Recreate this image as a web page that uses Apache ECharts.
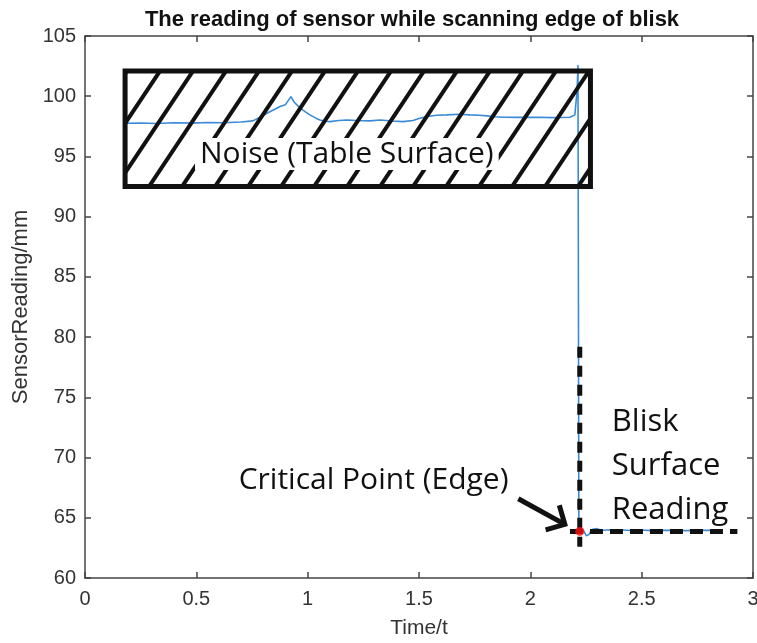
<!DOCTYPE html>
<html>
<head>
<meta charset="utf-8">
<script src="https://cdn.jsdelivr.net/npm/echarts@6/dist/echarts.min.js"></script>
<style>html,body{margin:0;padding:0;background:#fff}#c{width:757px;height:643px}</style>
</head>
<body>
<div id="c"></div>
<script>
// ---- data ----
const timeX = [0.18,0.25,0.32,0.40,0.48,0.55,0.62,0.70,0.754,0.79,0.817,0.85,0.876,0.90,0.907,0.925,0.94,0.965,0.99,1.010,1.035,1.055,1.08,1.100,1.14,1.176,1.22,1.28,1.325,1.38,1.428,1.473,1.50,1.536,1.58,1.626,1.68,1.729,1.77,1.805,1.84,1.877,1.95,2.030,2.10,2.178,2.200,2.210,2.214,2.218,2.226,2.240,2.252,2.262,2.280,2.300,2.320,2.344,2.40,2.45,2.492,2.55,2.60,2.640,2.70,2.77,2.851];
const readingY = [97.75,97.78,97.74,97.80,97.77,97.82,97.80,97.86,97.95,98.3,98.59,98.9,99.14,99.3,99.44,99.97,99.5,99.03,98.7,98.45,98.2,98.03,97.92,97.89,97.98,98.03,97.98,97.95,98.03,97.94,97.89,97.98,98.15,98.31,98.42,98.45,98.50,98.45,98.42,98.37,98.30,98.26,98.24,98.26,98.22,98.26,98.45,100.5,102.6,63.95,64.20,63.9,63.5,63.6,64.05,64.1,63.95,63.98,64.0,63.95,63.98,63.93,63.97,63.95,63.93,63.96,63.95];
const xTicks = [0, 3, 0.5];      // min, max, interval
const yTicks = [60, 105, 5];
const noiseBox = [0.18, 92.5, 2.27, 102.1];   // x0, y0, x1, y1
const edgeVertical = [[2.222, 79.2], [2.222, 62.6]];
const surfaceHorizontal = [[2.178, 63.87], [2.93, 63.87]];
const criticalPoint = [[2.222, 63.87]];
const arrowLine = [1.946, 66.58, 2.155, 64.45];
const noiseLabel = [1.176, 95.2, 'Noise (Table Surface)'];
const criticalLabel = [1.296, 68.1, 'Critical Point (Edge)'];
const bliskLabel = [2.366, 69.26, 'Blisk\nSurface\nReading'];
const titleText = 'The reading of sensor while scanning edge of blisk';

const chart = echarts.init(document.getElementById('c'));
const axisColor = '#444';
const labelColor = '#333';
const font = 'Liberation Sans, Arial, sans-serif';
const textFont = 'Open Sans, Noto Sans, sans-serif';

function boxAxisX(pos, show) {
  return {
    type: 'value', position: pos, min: xTicks[0], max: xTicks[1], interval: xTicks[2],
    axisLine: {show: true, onZero: false, lineStyle: {color: axisColor, width: 1.5}},
    axisTick: {show: true, inside: true, length: 6, lineStyle: {color: axisColor, width: 1.5}},
    axisLabel: {show: show, margin: 11, color: labelColor, fontSize: 20, fontFamily: font,
      formatter: v => String(v)},
    splitLine: {show: false},
    name: show ? 'Time/t' : '', nameLocation: 'middle', nameGap: 40,
    nameTextStyle: {color: labelColor, fontSize: 21, fontFamily: font}
  };
}
function boxAxisY(pos, show) {
  return {
    type: 'value', position: pos, min: yTicks[0], max: yTicks[1], interval: yTicks[2],
    axisLine: {show: true, onZero: false, lineStyle: {color: axisColor, width: 1.5}},
    axisTick: {show: true, inside: true, length: 6, lineStyle: {color: axisColor, width: 1.5}},
    axisLabel: {show: show, margin: 9, color: labelColor, fontSize: 20, fontFamily: font},
    splitLine: {show: false},
    name: show ? 'SensorReading/mm' : '', nameLocation: 'middle', nameGap: 52,
    nameTextStyle: {color: labelColor, fontSize: 22, fontFamily: font}
  };
}

function renderBox(params, api) {
  const tl = api.coord([noiseBox[0], noiseBox[3]]);
  const br = api.coord([noiseBox[2], noiseBox[1]]);
  const L = tl[0], T = tl[1], R = br[0], B = br[1];
  const H = B - T, slope = 1.5, step = 33, phase = 2;
  const children = [];
  for (let xt = L + phase; xt < R + H / slope + step; xt += step) {
    let x1 = xt, y1 = T;
    let x2 = xt - H / slope, y2 = B;
    if (x1 > R) { y1 = T + (x1 - R) * slope; x1 = R; }
    if (x2 < L) { y2 = B - (L - x2) * slope; x2 = L; }
    if (y1 >= B || y2 <= T || x2 > R) continue;
    children.push({type: 'line', shape: {x1, y1, x2, y2},
      style: {stroke: '#111', lineWidth: 4, lineCap: 'butt'}});
  }
  children.push({type: 'rect', shape: {x: L, y: T, width: R - L, height: H},
    style: {fill: null, stroke: '#111', lineWidth: 5}});
  const p = api.coord([noiseLabel[0], noiseLabel[1]]);
  children.push({type: 'text', x: p[0], y: p[1],
    style: {text: noiseLabel[2], fill: '#111', font: '30px ' + textFont,
      align: 'center', verticalAlign: 'middle', backgroundColor: '#fff', padding: [1, 5, 1, 5]}});
  return {type: 'group', children};
}

function renderArrow(params, api) {
  const s = api.coord([arrowLine[0], arrowLine[1]]);
  const t = api.coord([arrowLine[2], arrowLine[3]]);
  const ang = Math.atan2(t[1] - s[1], t[0] - s[0]);
  const hl = 20, ha = Math.PI / 4;
  const a1 = [t[0] - hl * Math.cos(ang - ha), t[1] - hl * Math.sin(ang - ha)];
  const a2 = [t[0] - hl * Math.cos(ang + ha), t[1] - hl * Math.sin(ang + ha)];
  return {type: 'group', children: [
    {type: 'line', shape: {x1: s[0], y1: s[1], x2: t[0], y2: t[1]}, style: {stroke: '#111', lineWidth: 5}},
    {type: 'polyline', shape: {points: [a1, t, a2]}, style: {stroke: '#111', lineWidth: 5, fill: null, lineJoin: 'miter'}}
  ]};
}

function renderTexts(params, api) {
  const c = api.coord([criticalLabel[0], criticalLabel[1]]);
  const b = api.coord([bliskLabel[0], bliskLabel[1]]);
  return {type: 'group', children: [
    {type: 'text', x: c[0], y: c[1], style: {text: criticalLabel[2], fill: '#111', font: '30px ' + textFont,
      align: 'center', verticalAlign: 'middle'}},
    {type: 'text', x: b[0], y: b[1], style: {text: bliskLabel[2], fill: '#111', font: '31px ' + textFont,
      align: 'left', verticalAlign: 'middle', lineHeight: 44}}
  ]};
}

chart.setOption({
  animation: false,
  backgroundColor: '#fff',
  title: {text: titleText, left: 407, top: 4, textAlign: 'center',
    textStyle: {fontSize: 22, fontWeight: 'bold', color: '#111', fontFamily: font}},
  grid: {left: 85, right: 4, top: 36, bottom: 65, containLabel: false, outerBoundsMode: 'none'},
  xAxis: [boxAxisX('bottom', true), boxAxisX('top', false)],
  yAxis: [boxAxisY('left', true), boxAxisY('right', false)],
  series: [
    {type: 'line', data: timeX.map((x, i) => [x, readingY[i]]), showSymbol: false, z: 2,
      lineStyle: {color: '#3b8ad6', width: 1.6}},
    {type: 'custom', renderItem: renderBox, data: [0], z: 3, silent: true, clip: false},
    {type: 'line', data: edgeVertical, showSymbol: false, z: 4,
      lineStyle: {color: '#111', width: 5, type: [11, 8]}},
    {type: 'line', data: surfaceHorizontal, showSymbol: false, z: 4,
      lineStyle: {color: '#111', width: 5, type: [13, 7]}},
    {type: 'custom', renderItem: renderArrow, data: [0], z: 4, silent: true},
    {type: 'custom', renderItem: renderTexts, data: [0], z: 4, silent: true},
    {type: 'scatter', data: criticalPoint, symbolSize: 9, z: 6, itemStyle: {color: '#ff1010'}}
  ]
});
</script>
</body>
</html>
